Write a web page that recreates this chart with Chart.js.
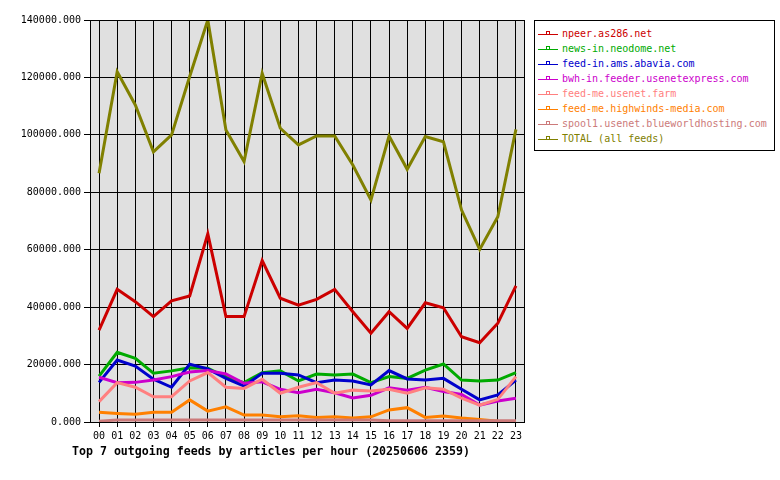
<!DOCTYPE html>
<html>
<head>
<meta charset="utf-8">
<script src="https://cdn.jsdelivr.net/npm/chart.js@4"></script>
<style>
  body { margin: 0; background: #fff; }
  #wrap { position: relative; width: 780px; height: 480px; }
  #legend {
    position: absolute; left: 534px; top: 20px; width: 241px; height: 131px;
    border: 1px solid #000; box-sizing: border-box; background: #fff;
    font: 10px "DejaVu Sans Mono", monospace;
  }
  .row { position: absolute; left: 3px; height: 15px; line-height: 15px; white-space: nowrap; }
  .swatch { position: relative; display: inline-block; width: 20px; height: 15px; vertical-align: top; margin-right: 4px; }
  .swatch .ln { position: absolute; left: 0; top: 8px; width: 20px; height: 1px; }
  .swatch .mk { position: absolute; left: 8px; top: 5px; width: 2px; height: 2px; border: 1px solid; background: #fff; }
  #title {
    position: absolute; left: 72px; top: 444px;
    font: bold 11.6px "DejaVu Sans Mono", monospace; color: #000; white-space: nowrap;
  }
</style>
</head>
<body>
<div id="wrap">
  <canvas id="chart" width="780" height="480"></canvas>
  <div id="legend"></div>
  <div id="title">Top 7 outgoing feeds by articles per hour (20250606 2359)</div>
</div>
<script>
// hours on the x axis
const hours = ['00','01','02','03','04','05','06','07','08','09','10','11',
               '12','13','14','15','16','17','18','19','20','21','22','23'];

// articles per hour
const npeer = [32000, 46200, 41900, 36700, 42200, 43900, 65500, 36700, 36700, 56200, 43100, 40700,
               42700, 46200, 38400, 30900, 38400, 32600, 41500, 39800, 29700, 27600, 34400, 47400];
const neodome = [16000, 24300, 22200, 17000, 17800, 18900, 18700, 15600, 13700, 17200, 17800, 14300,
                 16700, 16400, 16700, 13700, 15800, 15200, 18100, 20200, 14600, 14300, 14600, 17200];
const abavia = [13800, 21600, 19500, 14900, 12100, 20100, 18500, 15200, 12500, 17000, 17000, 16400,
                13700, 14600, 14300, 12900, 17900, 15000, 14600, 15200, 11400, 7700, 9400, 14600];
const usenetexpress = [15600, 13700, 13800, 14600, 15800, 17400, 17900, 16700, 13500, 14000, 11400, 10200,
                       11400, 10200, 8400, 9300, 11900, 11100, 12100, 10600, 9600, 5900, 7300, 8300];
const usenetFarm = [7100, 13700, 12100, 8800, 8800, 14300, 17200, 12100, 11700, 14900, 10000, 12100,
                    13700, 10000, 11100, 10800, 11400, 10000, 11900, 11400, 8300, 5900, 7900, 15800];
const highwinds = [3400, 3000, 2700, 3400, 3400, 7700, 3800, 5300, 2400, 2400, 1800, 2200,
                   1600, 1800, 1400, 1800, 4200, 5000, 1600, 2100, 1400, 900, 300, 200];
const blueworld = [300, 700, 700, 700, 700, 700, 700, 700, 700, 700, 700, 700,
                   700, 700, 700, 700, 400, 400, 400, 400, 400, 400, 400, 400];
const total = [86600, 122000, 110400, 94100, 100000, 120300, 140000, 101700, 90700, 121400, 102300, 96500,
               99600, 99600, 89500, 77300, 99600, 88000, 99400, 97600, 73800, 60100, 71500, 101900];

// y axis ticks
const yTicks = [0, 20000, 40000, 60000, 80000, 100000, 120000, 140000];

const feedNames = ['npeer.as286.net', 'news-in.neodome.net', 'feed-in.ams.abavia.com',
  'bwh-in.feeder.usenetexpress.com', 'feed-me.usenet.farm', 'feed-me.highwinds-media.com',
  'spool1.usenet.blueworldhosting.com', 'TOTAL (all feeds)'];
const feedValues = [npeer, neodome, abavia, usenetexpress, usenetFarm, highwinds, blueworld, total];
const feedColors = ['#cc0000', '#00aa00', '#0000cc', '#cc00cc', '#ff8080', '#ff8000', '#cc7a7a', '#808000'];

// grey plot area with a black frame
const frame = {
  id: 'frame',
  beforeDraw(chart) {
    const { ctx, chartArea: a } = chart;
    ctx.save();
    ctx.fillStyle = '#e0e0e0';
    ctx.fillRect(a.left, a.top, a.right - a.left, a.bottom - a.top);
    ctx.restore();
  },
  afterDatasetsDraw(chart) {
    const { ctx, chartArea: a } = chart;
    ctx.save();
    ctx.strokeStyle = '#000';
    ctx.lineWidth = 1;
    ctx.strokeRect(a.left + 0.5, a.top + 0.5, a.right - a.left - 1, a.bottom - a.top);
    ctx.restore();
  }
};

const datasets = feedNames.map((name, i) => ({
  label: name,
  data: feedValues[i],
  borderColor: feedColors[i],
  backgroundColor: feedColors[i],
  borderWidth: 3,
  pointRadius: 0,
  tension: 0,
  order: feedNames.length - i,   // later feeds drawn on top
}));

const tickFont = { family: '"DejaVu Sans Mono", monospace', size: 10 };

const config = {
  type: 'line',
  data: { labels: hours, datasets },
  options: {
    responsive: false,
    animation: false,
    layout: { padding: { top: 20, right: 255, left: 0, bottom: 0 } },
    scales: {
      x: {
        offset: true,
        grid: { color: '#000', offset: false, tickLength: 5, lineWidth: 1 },
        border: { display: false },
        ticks: { color: '#000', font: tickFont, padding: 3, maxRotation: 0, autoSkip: false },
        afterFit(scale) { scale.height = 58; },
      },
      y: {
        min: 0,
        max: 140000,
        grid: { color: '#000', tickLength: 6, lineWidth: 1 },
        border: { display: false },
        afterBuildTicks(scale) { scale.ticks = yTicks.map(v => ({ value: v })); },
        ticks: {
          color: '#000', font: tickFont, padding: 3,
          callback: (value) => value.toFixed(3),
        },
        afterFit(scale) { scale.width = 90; },
      },
    },
    plugins: {
      legend: { display: false },
      tooltip: { enabled: false },
    },
  },
  plugins: [frame],
};

const myChart = new Chart(document.getElementById('chart'), config);

// legend box on the right
const legend = document.getElementById('legend');
feedNames.forEach((name, i) => {
  const row = document.createElement('div');
  row.className = 'row';
  row.style.top = (5 + 15 * i) + 'px';
  row.style.color = feedColors[i];
  row.innerHTML = '<span class="swatch"><span class="ln" style="background:' + feedColors[i] +
    '"></span><span class="mk" style="border-color:' + feedColors[i] + '"></span></span>';
  row.appendChild(document.createTextNode(name));
  legend.appendChild(row);
});
</script>
</body>
</html>
